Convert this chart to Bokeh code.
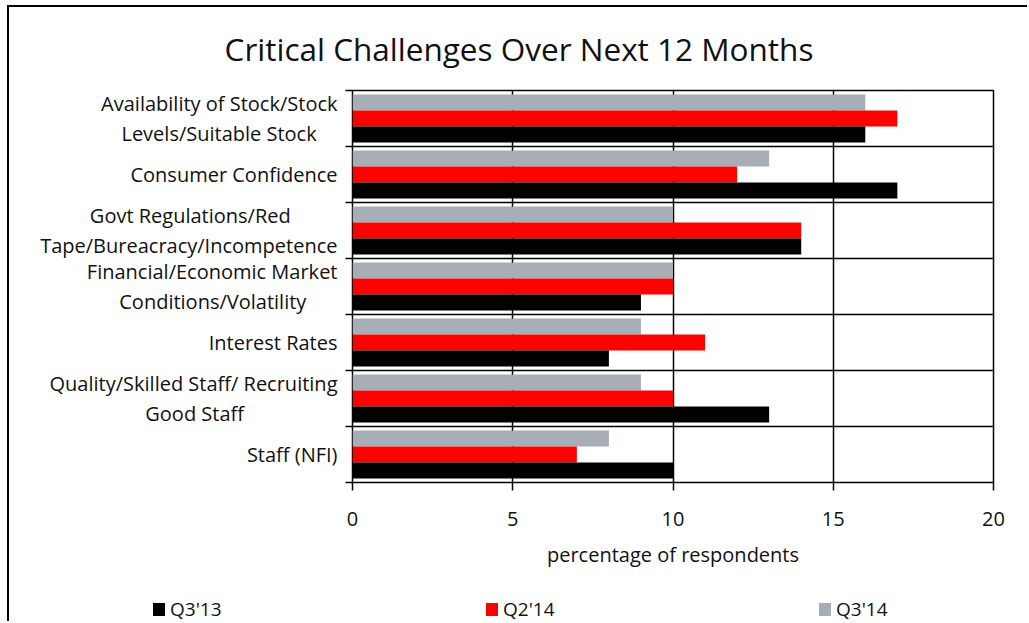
from bokeh.plotting import figure
from bokeh.models import (Range1d, LinearAxis, FixedTicker, Div,
                          Grid, ColumnDataSource)
from bokeh.layouts import column
from bokeh.transform import dodge
from bokeh.embed import file_html
from bokeh.resources import INLINE

categories = [
    "Availability of Stock/Stock\nLevels/Suitable Stock",
    "Consumer Confidence",
    "Govt Regulations/Red\nTape/Bureacracy/Incompetence",
    "Financial/Economic Market\nConditions/Volatility",
    "Interest Rates",
    "Quality/Skilled Staff/ Recruiting\nGood Staff",
    "Staff (NFI)",
]
q3_13 = [16, 17, 14, 9, 8, 13, 10]
q2_14 = [17, 12, 14, 10, 11, 10, 7]
q3_14 = [16, 13, 10, 10, 9, 9, 8]
series_names = ["Q3'13", "Q2'14", "Q3'14"]
x_ticks = [0, 5, 10, 15, 20]
title_text = "Critical Challenges Over Next 12 Months"
x_label = "percentage of respondents"

FONT = "Open Sans"
GRAY = "#a6adb4"
RED = "#ff0000"
BLACK = "#000000"
TXT = "#111111"
series_colors = [BLACK, RED, GRAY]

# visual centring of the shorter line in two-line tick labels (no-break spaces)
line_pad = [4, 0, 9, 6, 0, 18, 0]


def centred(label, pad):
    lines = label.split("\n")
    if len(lines) < 2 or pad == 0:
        return label
    longest = max(range(len(lines)), key=lambda i: len(lines[i]))
    return "\n".join(l if i == longest else l + "\u00a0" * pad for i, l in enumerate(lines))


n = len(categories)
pos = [n - i - 0.5 for i in range(n)]  # band centres, first category at top
src = ColumnDataSource(dict(pos=pos, q3_13=q3_13, q2_14=q2_14, q3_14=q3_14))

p = figure(width=1020, height=517, output_backend="svg", toolbar_location=None,
           y_range=Range1d(0, n), x_range=Range1d(0, 20),
           x_axis_location=None, y_axis_location=None,
           min_border_left=343, min_border_right=36, min_border_top=22, min_border_bottom=103)

p.outline_line_color = "black"
p.outline_line_width = 1.5

bh = 0.285
r_gray = p.hbar(y=dodge("pos", bh), right="q3_14", height=bh, source=src,
                fill_color=GRAY, line_color=None)
r_red = p.hbar(y=dodge("pos", 0), right="q2_14", height=bh, source=src,
               fill_color=RED, line_color=None)
r_black = p.hbar(y=dodge("pos", -bh), right="q3_13", height=bh, source=src,
                 fill_color=BLACK, line_color=None)

# boundary tick axis (inner)
tick_axis = LinearAxis(ticker=FixedTicker(ticks=list(range(n + 1))),
                       major_label_overrides={i: "" for i in range(n + 1)},
                       major_tick_out=7, major_tick_in=0, minor_tick_line_color=None,
                       axis_line_color=None, major_label_standoff=0,
                       major_tick_line_color="black", major_tick_line_width=1.5,
                       major_label_text_font_size="1px")
p.add_layout(tick_axis, "left")

cat_axis = LinearAxis(ticker=FixedTicker(ticks=pos),
                      major_label_overrides={pv: centred(c, k) for pv, c, k in zip(pos, categories, line_pad)},
                      major_tick_line_color=None, major_tick_out=0, major_tick_in=0,
                      minor_tick_line_color=None,
                      axis_line_color=None, major_label_standoff=8,
                      major_label_text_font=FONT, major_label_text_font_size="20px",
                      major_label_text_color=TXT, major_label_text_line_height=1.1)
p.add_layout(cat_axis, "left")

xaxis = LinearAxis(ticker=FixedTicker(ticks=x_ticks), major_tick_out=8, major_tick_in=0,
                   minor_tick_line_color=None, axis_line_color=None,
                   major_tick_line_color="black", major_tick_line_width=1.5,
                   major_label_standoff=21, major_label_text_font=FONT,
                   major_label_text_font_size="20px", major_label_text_color=TXT,
                   axis_label=x_label, axis_label_text_font=FONT,
                   axis_label_text_font_size="20px", axis_label_text_font_style="normal",
                   axis_label_text_color=TXT, axis_label_standoff=12)
p.add_layout(xaxis, "below")

p.add_layout(Grid(dimension=0, ticker=FixedTicker(ticks=x_ticks[1:-1]),
                  grid_line_color="black", grid_line_width=1.5))
p.add_layout(Grid(dimension=1, ticker=FixedTicker(ticks=list(range(1, n))),
                  grid_line_color="black", grid_line_width=1.5))

# legend strip (HTML, so that it can extend left of the plot frame)
items_html = "".join(
    f'<div style="width:333px;height:19px;display:flex;align-items:center">'
    f'<span style="display:inline-block;width:12px;height:13px;background:{c};margin-right:5px"></span>'
    f'<span>{name}</span></div>'
    for name, c in zip(series_names, series_colors))
legend_div = Div(text=f'<div style="display:flex;padding-left:144px;padding-top:15px;'
                      f'font-family:\'Open Sans\';font-size:19px;line-height:1;color:{TXT};'
                      f'white-space:nowrap">{items_html}</div>',
                 width=1020, height=38, margin=0)

title = Div(text=f'<div style="padding-top:26px;font-family:\'Open Sans\';font-size:31.5px;'
                 f'line-height:1;color:{TXT};text-align:center;width:1020px;white-space:nowrap">'
                 f'{title_text}</div>', width=1020, height=61, margin=0)

layout = column(title, p, legend_div, margin=(7, 0, 0, 9), spacing=0,
                styles={"box-shadow": "-2px -2px 0 0 #000"})

open("out.html", "w").write(file_html(layout, INLINE))
